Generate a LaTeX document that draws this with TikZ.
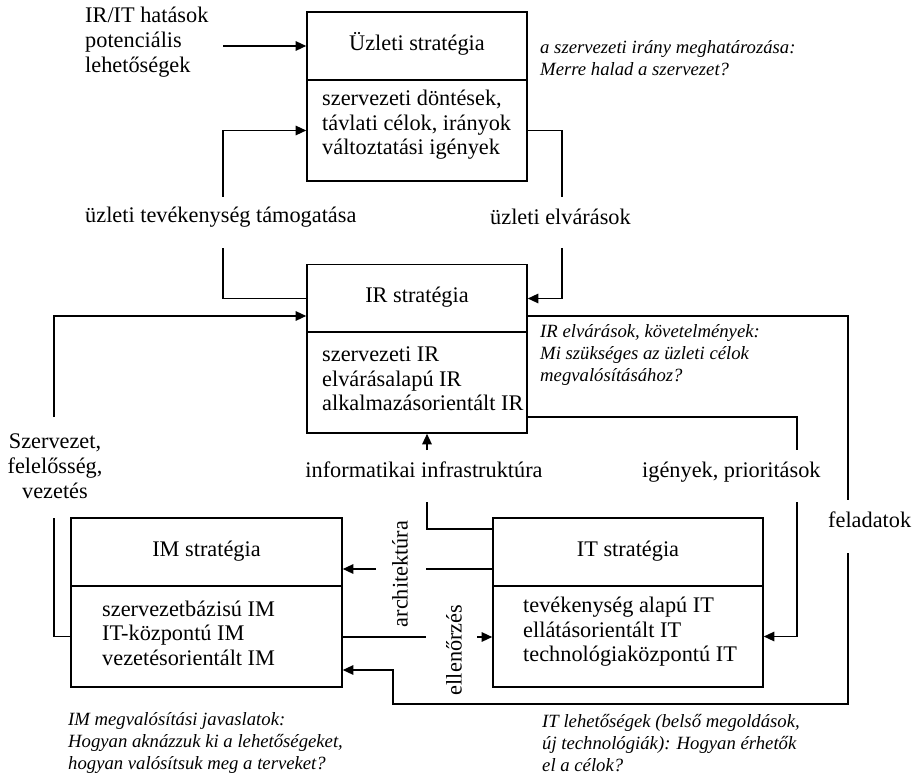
\documentclass[tikz,border=0pt]{standalone}
\usepackage{fontspec}
\setmainfont{Liberation Serif}
\usetikzlibrary{arrows.meta}
\begin{document}
\begin{tikzpicture}[x=1pt,y=-1pt,
  hbox/.style={draw, line width=1.6pt, minimum height=68pt, inner sep=0pt,
    text height=20pt, text depth=11pt, font=\fontsize{22.3}{25}\selectfont},
  bbox/.style={draw, line width=1.6pt, minimum height=101pt, inner sep=0pt},
  body/.style={anchor=west, align=left, inner sep=0pt, font=\fontsize{22.3}{24.5}\selectfont},
  lbl/.style={inner sep=0pt, align=left, font=\fontsize{22.3}{25}\selectfont},
  note/.style={anchor=west, inner sep=0pt, align=left, font=\fontsize{18.7}{22}\selectfont\itshape},
  con/.style={line width=1.3pt},
  arr/.style={con, -{Triangle[length=10.5pt,width=9.5pt]}}
]
\useasboundingbox (0,0) rectangle (918,775);

% strategy boxes: header and body parts
\node[hbox, minimum width=220pt] (uzh) at (417,46) {Üzleti stratégia};
\node[bbox, minimum width=220pt] (uzb) at (417,130.5) {};
\node[body] (uzt) at (322,125) {szervezeti döntések,\\távlati célok, irányok\\változtatási igények};

\node[hbox, minimum width=220pt] (irh) at (417,298.5) {IR stratégia};
\node[bbox, minimum width=220pt] (irb) at (417,382.5) {};
\node[body] (irt) at (322,379) {szervezeti IR\\elvárásalapú IR\\alkalmazásorientált IR};

\node[hbox, minimum width=271pt] (imh) at (206.5,552) {IM stratégia};
\node[bbox, minimum width=271pt] (imb) at (206.5,636.5) {};
\node[body] (imt) at (102,633) {szervezetbázisú IM\\IT-központú IM\\vezetésorientált IM};

\node[hbox, minimum width=270pt] (ith) at (628,552) {IT stratégia};
\node[bbox, minimum width=270pt] (itb) at (628,636.5) {};
\node[body] (itt) at (523,632) {tevékenység alapú IT\\ellátásorientált IT\\technológiaközpontú IT};

% connector labels
\node[lbl, anchor=west] (lirit) at (85,42) {IR/IT hatások\\potenciális\\lehetőségek};
\node[lbl, anchor=west] (lsupp) at (85,217) {üzleti tevékenység támogatása};
\node[lbl, anchor=west] (lexp) at (490,217) {üzleti elvárások};
\node[lbl, align=center] (lorg) at (55,466) {Szervezet,\\felelősség,\\vezetés};
\node[lbl] (linfra) at (424,470) {informatikai infrastruktúra};
\node[lbl, anchor=west] (lneed) at (642,472) {igények, prioritások};
\node[lbl, anchor=west] (ltask) at (828,520) {feladatok};
\node[lbl, rotate=90] (larch) at (400,574) {architektúra};
\node[lbl, rotate=90] (lctrl) at (454,650) {ellenőrzés};

% italic annotations
\node[note] (n1) at (540,58) {a szervezeti irány meghatározása:\\Merre halad a szervezet?};
\node[note] (n2) at (540,355) {IR elvárások, követelmények:\\Mi szükséges az üzleti célok\\megvalósításához?};
\node[note] (n3) at (68,743) {IM megvalósítási javaslatok:\\Hogyan aknázzuk ki a lehetőségeket,\\hogyan valósítsuk meg a terveket?};
\node[note] (n4) at (542,743) {IT lehetőségek (belső megoldások,\\új technológiák): Hogyan érhetők\\el a célok?};

% bend points of the connectors
\coordinate (a1) at (223,46);
\coordinate (b1) at (223,248);
\coordinate (b2) at (223,197);
\coordinate (c1) at (562,197);
\coordinate (c2) at (562,248);
\coordinate (d1) at (54,518);
\coordinate (d2) at (54,417);
\coordinate (d3) at (54,316);
\coordinate (e1) at (848,316);
\coordinate (e2) at (848,500);
\coordinate (e3) at (848,553);
\coordinate (e4) at (848,704);
\coordinate (e5) at (393,704);
\coordinate (e6) at (393,670);
\coordinate (f1) at (797,417);
\coordinate (f2) at (797,450);
\coordinate (f3) at (797,502);
\coordinate (g1) at (427,529);
\coordinate (g2) at (427,502);
\coordinate (g3) at (427,450);
\coordinate (h1) at (426,569);
\coordinate (h2) at (376,569);
\coordinate (k1) at (426,637);
\coordinate (k2) at (477,637);

% connectors
\draw[arr] (a1) -- (uzh.west);
\draw[con] (irh.west) -| (b1);
\draw[arr] (b2) |- (uzb.west);
\draw[con] (uzb.east) -| (c1);
\draw[arr] (c2) |- (irh.east);
\draw[con] (imb.west) -| (d1);
\draw[arr] (d2) -- (d3) -- (irh.west |- d3);
\draw[con] (irh.east |- e1) -- (e1) -- (e2);
\draw[arr] (e3) -- (e4) -- (e5) -- (e6) -- (imb.east |- e6);
\draw[con] (irb.east |- f1) -- (f1) -- (f2);
\draw[arr] (f3) |- (itb.east);
\draw[con] (ith.west |- g1) -- (g1) -- (g2);
\draw[arr] (g3) -- (irb.south -| g3);
\draw[con] (ith.west |- h1) -- (h1);
\draw[arr] (h2) -- (imh.east |- h2);
\draw[con] (imb.east |- k1) -- (k1);
\draw[arr] (k2) -- (itb.west |- k2);
\end{tikzpicture}
\end{document}
